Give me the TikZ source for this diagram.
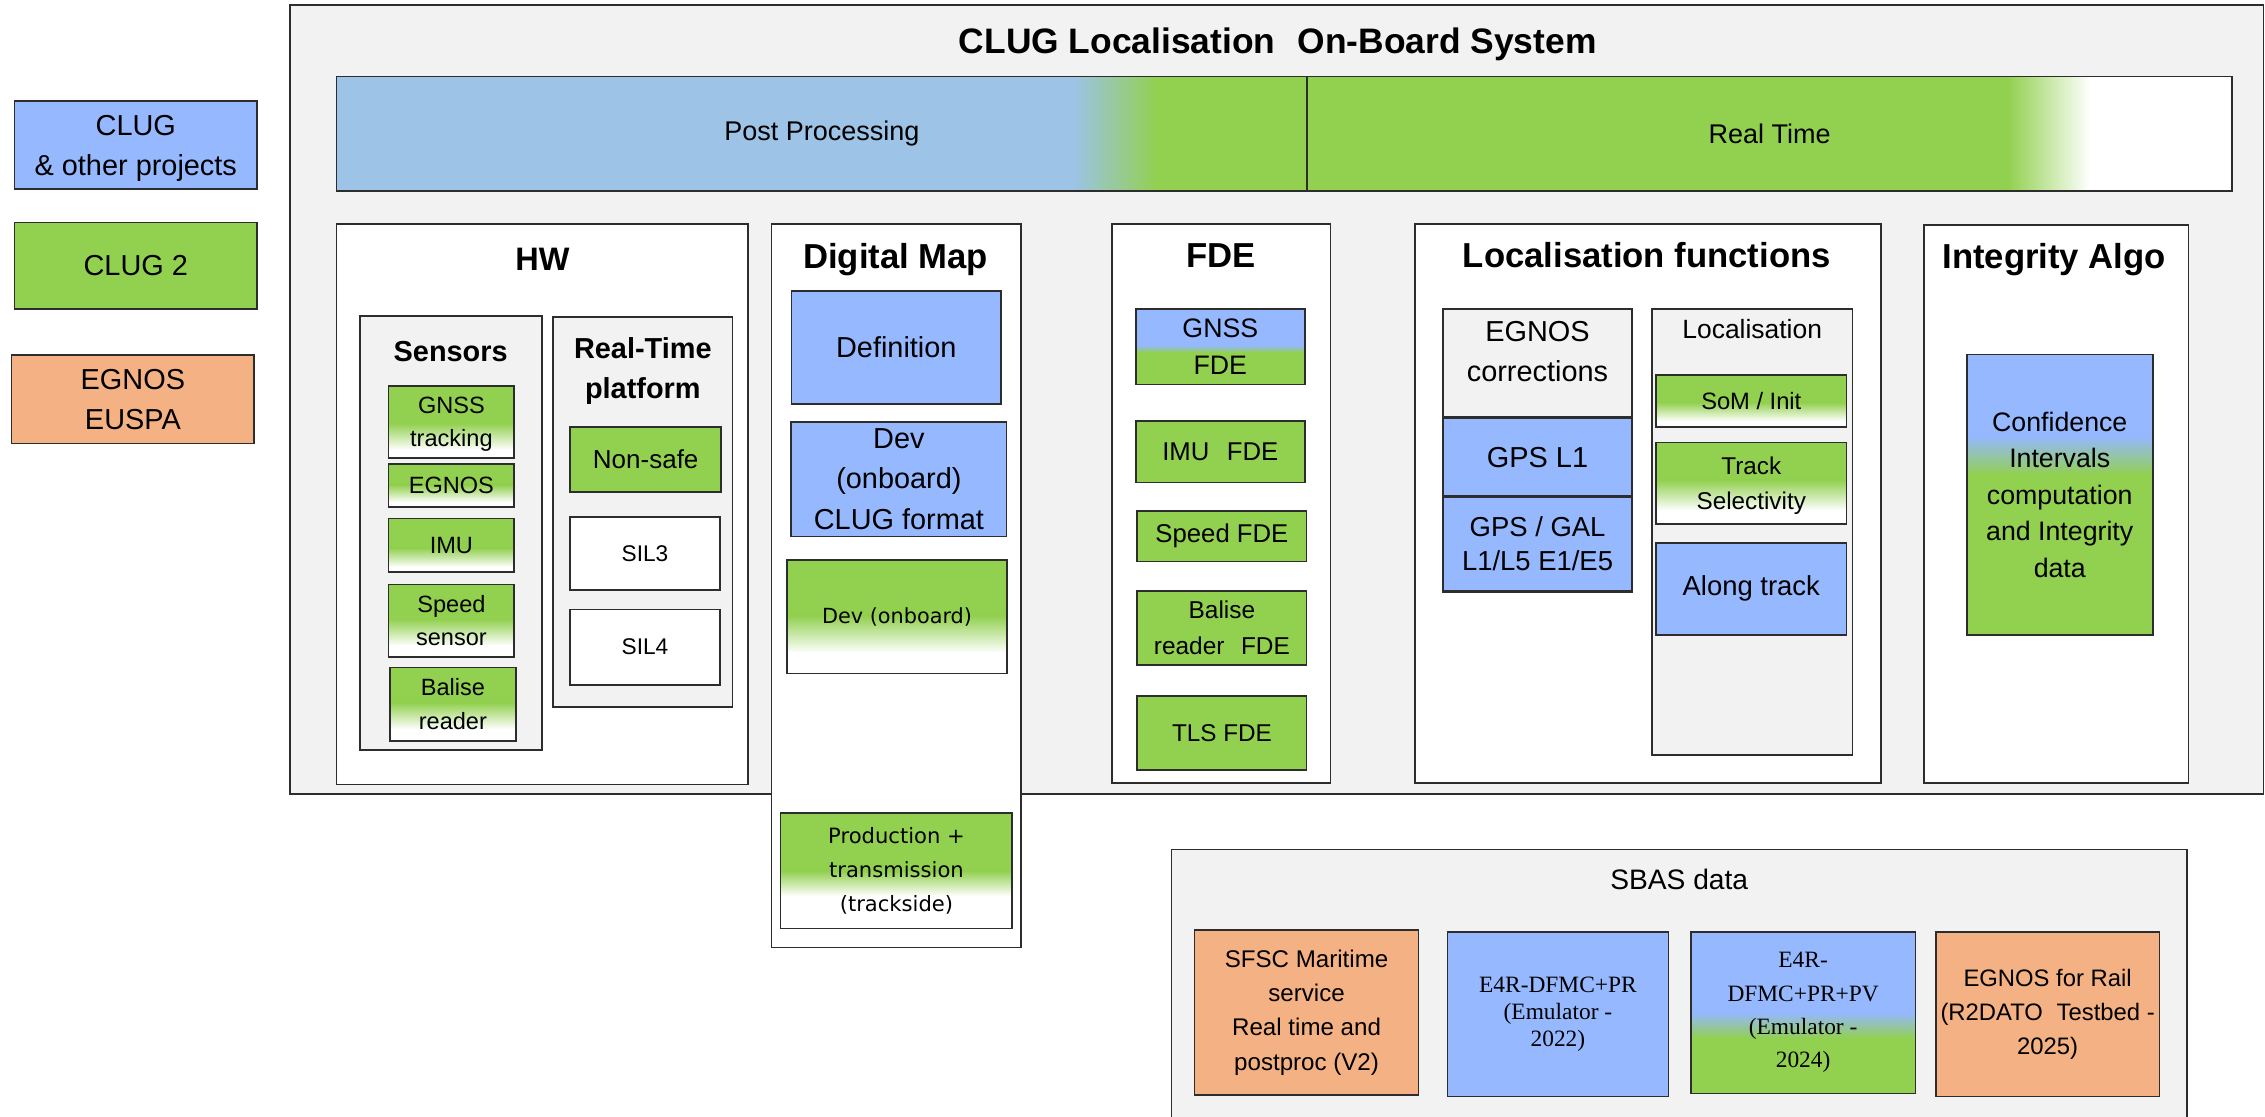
\documentclass[tikz,border=0pt]{standalone}
\usepackage{fontspec}
\setmainfont{Liberation Sans}
\newfontfamily\dvsans{DejaVu Sans}
\newfontfamily\lserif{Liberation Serif}
\usetikzlibrary{calc}
\definecolor{cblue}{RGB}{149,184,255}
\definecolor{barblue}{RGB}{157,195,230}
\definecolor{cgreen}{RGB}{146,208,80}
\definecolor{corange}{RGB}{244,177,131}
\definecolor{cgray}{RGB}{242,242,242}
\definecolor{cline}{RGB}{45,45,45}
\begin{document}
\begin{tikzpicture}[x=1pt,y=-1pt,
  box/.style={draw=cline, line width=1.2pt, inner sep=0pt, align=center, text=black},
  sz/.style 2 args={minimum width=#1pt, minimum height=#2pt},
  fs/.style 2 args={font=\fontsize{#1}{#2}\selectfont},
  ttl/.style={anchor=base, inner sep=0pt, font=\fontsize{24}{28}\selectfont\bfseries},
  stitle/.style={inner sep=0pt, align=center, font=\fontsize{20}{28}\selectfont\bfseries},
  gradfill/.style n args={4}{path picture={
    \coordinate (gA) at (path picture bounding box.north west);
    \coordinate (gB) at (path picture bounding box.south east);
    \coordinate (g1) at ($(gA)!#3!(gA|-gB)$);
    \coordinate (g2) at ($(gA)!#4!(gA|-gB)$);
    \fill[#1] (gA) rectangle ([yshift=-0.5pt]g1-|gB);
    \shade[top color=#1,bottom color=#2] (g1) rectangle (g2-|gB);
    \fill[#2] ([yshift=0.5pt]g2) rectangle (gB);
  }},
  gw/.style 2 args={gradfill={cgreen}{white}{#1}{#2}},
  bg/.style 2 args={gradfill={cblue}{cgreen}{#1}{#2}},
  ]
\useasboundingbox (0,0) rectangle (1568,773);
\clip (0,0) rectangle (1568,773);

% Legend
\node[box, fill=cblue, sz={168}{61}, fs={20}{28}, text depth=0pt] (legA) at (94,100.5) {CLUG\\\& other projects};
\node[box, fill=cgreen, sz={168}{60}, fs={20}{28}] (legB) at (94,184) {CLUG 2};
\node[box, fill=corange, sz={168}{61}, fs={20}{28}] (legC) at (92,276.5) {EGNOS\\EUSPA};

% Main system box
\node[box, fill=cgray, sz={1366}{546}] (main) at (884,276.5) {};
\node[ttl, font=\fontsize{24.5}{28}\selectfont\bfseries] (mtitle) at (884.5,37) {CLUG Localisation\hspace{0.35em} On-Board System};

% Post processing / real time bar
\fill[barblue] (233,53) rectangle (744,132);
\shade[left color=barblue, right color=cgreen] (743,53) rectangle (801,132);
\fill[cgreen] (800,53) rectangle (1391,132);
\shade[left color=cgreen, right color=white] (1390,53) rectangle (1447,132);
\fill[white] (1446,53) rectangle (1545,132);
\node[box, sz={672}{79}, fs={18.7}{22}] (pp) at (569,92.5) {Post Processing};
\node[box, sz={640}{79}, fs={18.7}{22}] (rt) at (1225,92.5) {Real Time};

% HW
\node[box, fill=white, sz={285}{388}] (hw) at (375.5,349) {};
\node[ttl, font=\fontsize{22.5}{26}\selectfont\bfseries] (hwt) at (375.5,187) {HW};
\node[box, fill=cgray, sz={126}{300}] (sens) at (312,369) {};
\node[stitle, anchor=base] (senst) at (312,250) {Sensors};
\node[box, gw={0.52}{0.89}, sz={87}{50}, fs={16.3}{23.5}, text depth=0pt] (gnss) at (312.5,292) {GNSS\\tracking};
\node[box, gw={0.49}{0.89}, sz={87}{30}, fs={16.3}{23.5}] (egn) at (312.5,336) {EGNOS};
\node[box, gw={0.55}{0.91}, sz={87}{37}, fs={16.3}{23.5}] (imu) at (312.5,377.5) {IMU};
\node[box, gw={0.48}{0.85}, sz={87}{50}, fs={16.3}{23.5}] (spd) at (312.5,429.6) {Speed\\sensor};
\node[box, gw={0.48}{0.84}, sz={87}{51}, fs={16.3}{23.5}] (bal) at (313.5,487.5) {Balise\\reader};

\node[box, fill=cgray, sz={124}{270}] (rtp) at (445,354.5) {};
\node[stitle] (rtpt) at (445,256.8) {Real-Time\\platform};
\node[box, fill=cgreen, sz={104.5}{45}, fs={18}{22}] (nons) at (447,318) {Non-safe};
\node[box, fill=white, sz={104}{50.5}, fs={15.7}{20}] (sil3) at (446.5,383.25) {SIL3};
\node[box, fill=white, sz={104}{52}, fs={15.7}{20}] (sil4) at (446.5,448) {SIL4};

% Digital Map
\node[box, fill=white, sz={173}{501}] (dm) at (620.5,405.5) {};
\node[ttl] (dmt) at (620,186) {Digital Map};
\node[box, fill=cblue, sz={145}{78}, fs={20}{28}] (def) at (620.5,240.5) {Definition};
\node[box, fill=cblue, sz={149}{79.4}, fs={20}{28}] (devc) at (622.3,331.7) {Dev\\(onboard)\\CLUG format};
\node[box, gw={0.49}{0.82}, sz={152}{78.5}, font=\dvsans\fontsize{14.4}{20}\selectfont] (devo) at (621,427) {Dev (onboard)};
\node[box, gw={0.5}{0.72}, sz={160.4}{79.7}, font=\dvsans\fontsize{14.6}{23.6}\selectfont] (prod) at (620.6,602.9) {Production +\\transmission\\(trackside)};

% FDE
\node[box, fill=white, sz={151.4}{387}] (fde) at (845.3,348.5) {};
\node[ttl] (fdet) at (845.3,185) {FDE};
\node[box, bg={0.48}{0.58}, sz={117.2}{52.5}, fs={18.5}{25.6}] (gfde) at (844.8,240) {GNSS\\FDE};
\node[box, fill=cgreen, sz={117.2}{42.8}, fs={17.8}{22}] (ifde) at (844.8,312.6) {IMU\hspace{0.4em} FDE};
\node[box, fill=cgreen, sz={117.2}{34.9}, fs={17.8}{22}] (sfde) at (845.9,371.25) {Speed FDE};
\node[box, fill=cgreen, sz={117.2}{51}, fs={16.9}{25}] (bfde) at (845.9,434.8) {Balise\\reader\hspace{0.4em} FDE};
\node[box, fill=cgreen, sz={117.2}{51}, fs={16.8}{22}] (tfde) at (845.9,507.5) {TLS FDE};

% Localisation functions
\node[box, fill=white, sz={322.6}{387}] (lf) at (1140.7,348.5) {};
\node[ttl] (lft) at (1140,185) {Localisation functions};
\node[box, fill=cgray, sz={130.9}{196.3}] (egc) at (1064.35,311.95) {};
\node[inner sep=0pt, align=center, fs={20}{28}] (egct) at (1064.35,243.4) {EGNOS\\corrections};
\node[box, fill=cblue, line width=1.8pt, sz={130.8}{54.7}, fs={20}{24}] (gl1) at (1064.4,316.45) {GPS L1};
\node[box, fill=cblue, line width=1.8pt, sz={130.8}{65.5}, fs={19}{23.8}] (ggal) at (1064.4,376.55) {GPS / GAL\\L1/L5 E1/E5};
\node[box, fill=cgray, sz={138.9}{309.1}] (locb) at (1213.05,368.35) {};
\node[inner sep=0pt, anchor=base, fs={18.3}{22}] (loct) at (1213,234) {Localisation};
\node[box, gw={0.53}{0.89}, sz={131.9}{36.1}, fs={16.4}{22}] (som) at (1212.35,277.55) {SoM / Init};
\node[box, gw={0.46}{0.84}, sz={131.9}{56.3}, fs={16.8}{23.8}, text depth=0pt] (trk) at (1212.35,334.5) {Track\\Selectivity};
\node[box, fill=cblue, sz={131.9}{63.9}, fs={19}{23}] (alt) at (1212.35,407.65) {Along track};

% Integrity
\node[box, fill=white, sz={183}{386}] (ia) at (1423.5,349) {};
\node[ttl] (iat) at (1422,186) {Integrity Algo};
\node[box, bg={0.29}{0.43}, sz={128.8}{194.1}, fs={18.5}{25.2}] (conf) at (1425.9,342.55) {Confidence\\Intervals\\computation\\and Integrity\\data};

% SBAS data
\node[box, fill=cgray, sz={703}{212}] (sbas) at (1162.5,694) {};
\node[inner sep=0pt, anchor=base, fs={19.5}{22}] (sbast) at (1162.5,616) {SBAS data};
\node[box, fill=corange, sz={155}{114}, fs={16.7}{23.7}] (sfsc) at (904.5,701) {SFSC Maritime\\service\\Real time and\\postproc (V2)};
\node[box, fill=cblue, sz={153}{114}, font=\lserif\fontsize{16.2}{18.5}\selectfont] (e4a) at (1078.5,702) {E4R-DFMC+PR\\(Emulator -\\2022)};
\node[box, bg={0.5}{0.66}, sz={155.5}{112}, font=\lserif\fontsize{16.2}{23}\selectfont] (e4b) at (1248.25,701) {E4R-\\DFMC+PR+PV\\(Emulator -\\2024)};
\node[box, fill=corange, sz={155}{114}, fs={16.5}{23.5}] (egr) at (1417.5,702) {EGNOS for Rail\\(R2DATO\hspace{0.3em} Testbed -\\2025)};
\end{tikzpicture}
\end{document}
